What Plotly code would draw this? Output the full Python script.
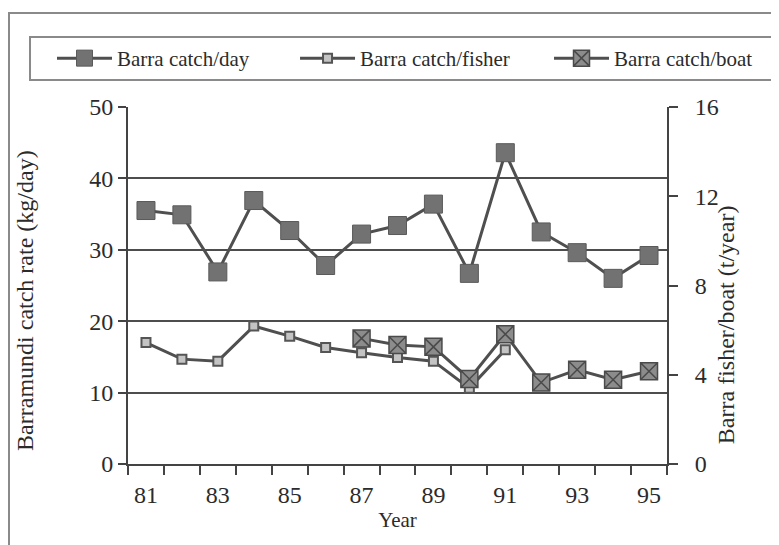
import plotly.graph_objects as go

years = list(range(81, 96))
catch_day = [35.5, 34.9, 26.9, 36.9, 32.7, 27.8, 32.2, 33.4, 36.4, 26.7, 43.6, 32.5, 29.6, 26.0, 29.2]

fisher_years = list(range(81, 92))
catch_fisher = [5.44, 4.70, 4.61, 6.18, 5.73, 5.22, 4.99, 4.77, 4.61, 3.40, 5.12]

boat_years = list(range(87, 96))
catch_boat = [5.63, 5.33, 5.25, 3.81, 5.82, 3.65, 4.22, 3.78, 4.16]

x_ticks = list(range(81, 96, 2))
right_ticks = [0, 4, 8, 12, 16]

line_col = "#4f4f4f"
frame_col = "#8a8a8a"
axis_col = "#444444"
serif = "Liberation Serif"
font = dict(family=serif, size=21, color="#2b2b2b")
tick_font = dict(family=serif, size=24, color="#2b2b2b")
title_font = dict(family=serif, size=24, color="#2b2b2b")

fig = go.Figure()

fig.add_trace(go.Scatter(
    x=years, y=catch_day, name="Barra catch/day", mode="lines+markers",
    legend="legend",
    line=dict(color=line_col, width=3),
    marker=dict(symbol="square", size=18, color="#727272",
                line=dict(color="#5a5a5a", width=1)),
))
fig.add_trace(go.Scatter(
    x=fisher_years, y=catch_fisher, name="Barra catch/fisher", mode="lines+markers",
    yaxis="y2", legend="legend2",
    line=dict(color=line_col, width=3),
    marker=dict(symbol="square", size=9, color="#c4c4c4",
                line=dict(color="#555555", width=2)),
))
fig.add_trace(go.Scatter(
    x=boat_years, y=catch_boat, name="Barra catch/boat", mode="lines+markers",
    yaxis="y2", legend="legend3",
    line=dict(color=line_col, width=3),
    marker=dict(symbol="square-x", size=17, color="#8c8c8c",
                line=dict(color="#4a4a4a", width=1.5)),
))

# outer frame of the scanned figure
fig.add_shape(type="rect", xref="paper", yref="paper",
              x0=-0.2208, x1=1.25, y0=-0.3, y1=1.2633,
              line=dict(color=frame_col, width=2), layer="below")
# box round the three legend entries
fig.add_shape(type="rect", xref="paper", yref="paper",
              x0=-0.1818, x1=1.1948, y0=1.0756, y1=1.196,
              line=dict(color=frame_col, width=2), fillcolor="white", layer="below")

leg = dict(orientation="h", yanchor="middle", y=1.1359, xanchor="left",
           bgcolor="rgba(0,0,0,0)", borderwidth=0, itemwidth=55, font=font)

# page adds an 8px body margin, so margins are trimmed by 8
fig.update_layout(
    width=771, height=537,
    margin=dict(l=120, r=112, t=99, b=81),
    paper_bgcolor="white", plot_bgcolor="white",
    font=font,
    showlegend=True,
    legend=dict(leg, x=-0.141),
    legend2=dict(leg, x=0.3099),
    legend3=dict(leg, x=0.7811),
    xaxis=dict(
        range=[80.5, 95.5], tickvals=x_ticks, ticktext=[str(v) for v in x_ticks],
        ticks="", showgrid=False, zeroline=False, automargin=False,
        showline=True, linecolor=axis_col, linewidth=2, tickfont=tick_font,
        ticklabelstandoff=8,
        minor=dict(tick0=0.5, dtick=1, ticks="outside", ticklen=9,
                   tickcolor=axis_col, tickwidth=2, showgrid=False),
        title=dict(text="Year", standoff=6, font=font),
    ),
    yaxis=dict(
        range=[0, 50], dtick=10, showgrid=True, gridcolor="#4d4d4d", gridwidth=2,
        zeroline=False, showline=True, linecolor=axis_col, linewidth=2,
        ticks="outside", ticklen=8, tickcolor=axis_col, tickwidth=2,
        tickfont=tick_font, automargin=False,
    ),
    yaxis2=dict(
        range=[0, 16], tickvals=right_ticks, overlaying="y", side="right",
        showgrid=False, zeroline=False, showline=True, linecolor=axis_col, linewidth=2,
        ticks="outside", ticklen=9, tickcolor=axis_col, tickwidth=2,
        tickfont=tick_font, ticklabelstandoff=12, automargin=False,
    ),
    annotations=[
        dict(text="Barramundi catch rate (kg/day)", textangle=-90,
             xref="paper", yref="paper", x=-0.191, y=0.457,
             xanchor="center", yanchor="middle", showarrow=False, font=title_font),
        dict(text="Barra fisher/boat (t/year)", textangle=-90,
             xref="paper", yref="paper", x=1.1095, y=0.389,
             xanchor="center", yanchor="middle", showarrow=False, font=title_font),
    ],
)

fig.write_html("out.html")
